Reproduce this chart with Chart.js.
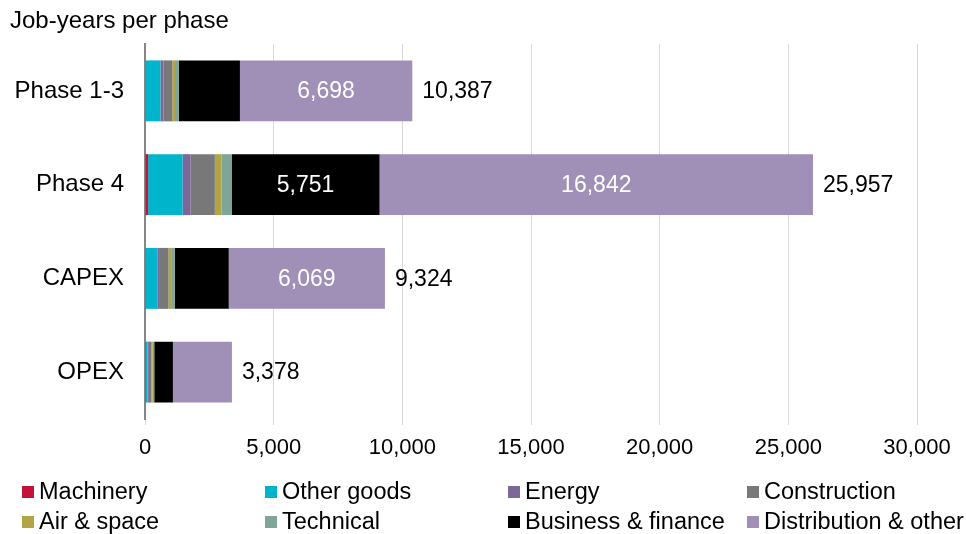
<!DOCTYPE html>
<html lang="en">
<head>
<meta charset="UTF-8">
<title>Job-years per phase</title>
<script src="https://cdn.jsdelivr.net/npm/chart.js"></script>
<style>
  body { margin: 0; background: #fff; font-family: "Liberation Sans", Arial, sans-serif; }
  #wrap { position: relative; width: 966px; height: 534px; }
  #title { position: absolute; left: 10px; top: 6px; font-size: 24px; color: #000; }
  #legend { position: absolute; left: 0; top: 478px; width: 966px; }
  .item { position: absolute; font-size: 23.5px; color: #000; white-space: nowrap; line-height: 26px; }
  .item span { display: inline-block; width: 12px; height: 12px; margin-right: 5px; vertical-align: 1px; }
</style>
</head>
<body>
<div id="wrap">
  <canvas id="chart" width="966" height="534"></canvas>
  <div id="title">Job-years per phase</div>
  <div id="legend"></div>
</div>
<script>
// categories and series
const phases = ['Phase 1-3', 'Phase 4', 'CAPEX', 'OPEX'];
const sectors = ['Machinery', 'Other goods', 'Energy', 'Construction', 'Air & space', 'Technical', 'Business & finance', 'Distribution & other'];
const colours = ['#C3123A', '#00B4CC', '#7D6698', '#787878', '#B3A543', '#7EA598', '#000000', '#A08FB6'];

const machinery    = [15, 120, 15, 10];
const otherGoods   = [585, 1340, 465, 90];
const energy       = [115, 310, 100, 50];
const construction = [350, 945, 335, 100];
const airSpace     = [100, 260, 100, 50];
const technical    = [150, 390, 140, 60];
const business     = [2374, 5751, 2100, 725];
const distribution = [6698, 16842, 6069, 2293];
const totals       = [10387, 25957, 9324, 3378];

const xTicks = [0, 5000, 10000, 15000, 20000, 25000, 30000];

const series = [machinery, otherGoods, energy, construction, airSpace, technical, business, distribution];

// which segment values are written inside the bar (white)
const insideLabels = {
  6: [false, true, false, false],
  7: [true, true, true, false]
};

const fmt = v => v.toLocaleString('en-US');

const labelPlugin = {
  id: 'barLabels',
  afterDatasetsDraw(chart) {
    const ctx = chart.ctx;
    ctx.save();
    ctx.font = '23px "Liberation Sans", Arial, sans-serif';
    ctx.textBaseline = 'middle';
    chart.data.datasets.forEach((ds, di) => {
      const meta = chart.getDatasetMeta(di);
      meta.data.forEach((bar, i) => {
        if (insideLabels[di] && insideLabels[di][i]) {
          ctx.fillStyle = '#ffffff';
          ctx.textAlign = 'center';
          ctx.fillText(fmt(ds.data[i]), (bar.x + bar.base) / 2, bar.y + 1);
        }
      });
    });
    const last = chart.getDatasetMeta(chart.data.datasets.length - 1);
    last.data.forEach((bar, i) => {
      ctx.fillStyle = '#000000';
      ctx.textAlign = 'left';
      ctx.fillText(fmt(totals[i]), bar.x + 10, bar.y + 1);
    });
    ctx.restore();
  }
};

const legend = document.getElementById('legend');
const colX = [22, 265, 508, 747];
sectors.forEach((name, i) => {
  const d = document.createElement('div');
  d.className = 'item';
  d.style.left = colX[i % 4] + 'px';
  d.style.top = (i < 4 ? 0 : 30) + 'px';
  d.innerHTML = '<span style="background:' + colours[i] + '"></span>' + name.replace('&', '&amp;');
  legend.appendChild(d);
});

new Chart(document.getElementById('chart'), {
  type: 'bar',
  data: {
    labels: phases,
    datasets: series.map((data, i) => ({
      label: sectors[i],
      data: data,
      backgroundColor: colours[i],
      borderWidth: 0,
      categoryPercentage: 1,
      barPercentage: 0.65
    }))
  },
  options: {
    indexAxis: 'y',
    responsive: false,
    animation: false,
    layout: { padding: { left: 0, top: 44, right: 49, bottom: 0 } },
    plugins: { legend: { display: false }, tooltip: { enabled: false } },
    scales: {
      x: {
        stacked: true,
        min: 0,
        max: 30000,
        afterBuildTicks: s => { s.ticks = xTicks.map(v => ({ value: v })); },
        afterFit: s => { s.height = 115; },
        grid: { color: '#D9D9D9', lineWidth: 1, drawTicks: true, tickLength: 6 },
        border: { display: false },
        ticks: {
          padding: 10,
          color: '#000',
          font: { family: '"Liberation Sans", Arial, sans-serif', size: 22 },
          callback: v => fmt(v)
        }
      },
      y: {
        stacked: true,
        afterFit: s => { s.width = 145; },
        grid: { display: false, drawTicks: false },
        border: { display: true, color: '#868686', width: 2 },
        ticks: {
          padding: 21,
          color: '#000',
          font: { family: '"Liberation Sans", Arial, sans-serif', size: 24 }
        }
      }
    }
  },
  plugins: [labelPlugin]
});
</script>
</body>
</html>
